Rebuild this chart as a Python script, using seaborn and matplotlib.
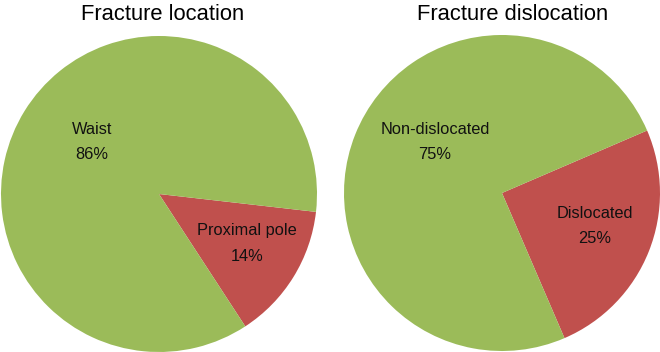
import matplotlib
matplotlib.use("Agg")
import matplotlib.pyplot as plt
import seaborn as sns

sns.set_theme(style="white")
plt.rcParams['font.family'] = ['Liberation Sans', 'DejaVu Sans']

# Data
loc_labels = ["Waist", "Proximal pole"]
loc_values = [86, 14]
dis_labels = ["Non-dislocated", "Dislocated"]
dis_values = [75, 25]
titles = ["Fracture location", "Fracture dislocation"]

colors = ["#9BBB59", "#C0504D"]

fig = plt.figure(figsize=(6.6, 3.52), dpi=100)
W, H = 660, 352

def make_ax(cx, cy, r):
    return fig.add_axes([(cx - r) / W, (H - cy - r) / H, 2 * r / W, 2 * r / H])

ax1 = make_ax(159, 194, 158)
ax2 = make_ax(502, 193, 158)

def draw(ax, values, labels, start, label_pos):
    # red slice drawn first (clockwise from start), then green
    vals = [values[1], values[0]]
    cols = [colors[1], colors[0]]
    ax.pie(vals, colors=cols, startangle=start, counterclock=False,
           radius=1, wedgeprops=dict(linewidth=0, antialiased=True))
    ax.set_xlim(-1, 1)
    ax.set_ylim(-1, 1)
    ax.set_aspect("equal")
    ax.axis("off")
    for lab, v, (x, y) in zip(labels, values, label_pos):
        ax.text(x, y, f"{lab}\n{v}%", ha="center", va="center",
                fontsize=11.8, color="#111111", linespacing=1.85)

draw(ax1, loc_values, loc_labels, -6.5, [(-0.424, 0.329), (0.557, -0.313)])
draw(ax2, dis_values, dis_labels, 23.3, [(-0.424, 0.323), (0.589, -0.209)])

fig.text(163 / W, 1 - 14 / H, titles[0], ha="center", va="center", fontsize=15.8, color="black")
fig.text(513 / W, 1 - 14 / H, titles[1], ha="center", va="center", fontsize=15.8, color="black")

fig.savefig("out.png", dpi=100)
